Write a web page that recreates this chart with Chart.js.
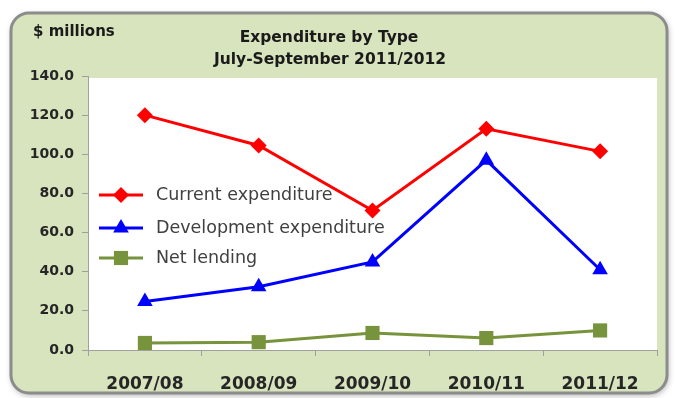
<!DOCTYPE html>
<html>
<head>
<meta charset="utf-8">
<script src="https://cdn.jsdelivr.net/npm/chart.js@4.4.1/dist/chart.umd.min.js"></script>
<style>
body { margin: 0; background: #fff; }
#wrap { width: 679px; height: 398px; }
</style>
</head>
<body>
<div id="wrap"><canvas id="c"></canvas></div>
<script>
// data
const years = ['2007/08', '2008/09', '2009/10', '2010/11', '2011/12'];
const currentExp = [120.0, 104.5, 71.3, 113.0, 101.5];
const developmentExp = [24.8, 32.3, 45.0, 97.0, 41.0];
const netLending = [3.6, 4.0, 8.7, 6.1, 10.0];
const seriesNames = ['Current expenditure', 'Development expenditure', 'Net lending'];
const titleLines = ['Expenditure by Type', 'July-September 2011/2012'];
const unitLabel = '$ millions';

const FONT = '"DejaVu Sans", sans-serif';

function roundRect(ctx, x, y, w, h, r) {
    ctx.beginPath();
    ctx.moveTo(x + r, y);
    ctx.arcTo(x + w, y, x + w, y + h, r);
    ctx.arcTo(x + w, y + h, x, y + h, r);
    ctx.arcTo(x, y + h, x, y, r);
    ctx.arcTo(x, y, x + w, y, r);
    ctx.closePath();
}

function marker(ctx, style, x, y, r, color) {
    ctx.fillStyle = color;
    ctx.beginPath();
    if (style === 'rectRot') {
        ctx.moveTo(x, y - r); ctx.lineTo(x + r, y); ctx.lineTo(x, y + r); ctx.lineTo(x - r, y);
    } else if (style === 'triangle') {
        ctx.moveTo(x, y - r); ctx.lineTo(x + r * 0.87, y + r * 0.5); ctx.lineTo(x - r * 0.87, y + r * 0.5);
    } else {
        const s = r * Math.SQRT1_2;
        ctx.rect(x - s, y - s, s * 2, s * 2);
    }
    ctx.closePath();
    ctx.fill();
}

// panel, white plot box, titles
const panelPlugin = {
    id: 'panel',
    beforeDraw(chart) {
        const { ctx, chartArea } = chart;
        ctx.save();
        ctx.shadowColor = 'rgba(0,0,0,0.35)';
        ctx.shadowBlur = 6;
        ctx.shadowOffsetX = 1;
        ctx.shadowOffsetY = 2;
        roundRect(ctx, 11, 13, 656, 380, 18);
        ctx.fillStyle = '#d7e4bd';
        ctx.fill();
        ctx.shadowColor = 'transparent';
        ctx.lineWidth = 3;
        ctx.strokeStyle = '#8c8c8c';
        ctx.stroke();
        ctx.fillStyle = '#ffffff';
        ctx.fillRect(chartArea.left, chartArea.top + 2, chartArea.right - chartArea.left, chartArea.bottom - chartArea.top - 2);
        ctx.fillStyle = '#1a1a1a';
        ctx.textBaseline = 'middle';
        ctx.textAlign = 'left';
        ctx.font = `bold 15px ${FONT}`;
        ctx.fillText(unitLabel, 33, 32);
        ctx.font = `bold 15.5px ${FONT}`;
        ctx.textAlign = 'center';
        ctx.fillText(titleLines[0], 329, 38);
        ctx.fillText(titleLines[1], 330, 60);
        ctx.restore();
    }
};

// legend drawn inside the plot
const insideLegend = {
    id: 'insideLegend',
    afterDatasetsDraw(chart) {
        const { ctx } = chart;
        const rows = [195, 228, 258];
        ctx.save();
        chart.data.datasets.forEach((ds, i) => {
            const y = rows[i];
            ctx.strokeStyle = ds.borderColor;
            ctx.lineWidth = 3;
            ctx.beginPath();
            ctx.moveTo(99, y);
            ctx.lineTo(143, y);
            ctx.stroke();
            marker(ctx, ds.pointStyle, 121, y, ds.pointRadius, ds.backgroundColor);
            ctx.fillStyle = '#404040';
            ctx.font = `17.5px ${FONT}`;
            ctx.textAlign = 'left';
            ctx.textBaseline = 'middle';
            ctx.fillText(ds.label, 156, y);
        });
        ctx.restore();
    }
};

new Chart(document.getElementById('c'), {
    type: 'line',
    data: {
        labels: years,
        datasets: [
            { label: seriesNames[0], data: currentExp, borderColor: '#ff0000', backgroundColor: '#ff0000',
              borderWidth: 3, pointStyle: 'rectRot', pointRadius: 8, pointBorderWidth: 0 },
            { label: seriesNames[1], data: developmentExp, borderColor: '#0000ff', backgroundColor: '#0000ff',
              borderWidth: 3, pointStyle: 'triangle', pointRadius: 9, pointBorderWidth: 0 },
            { label: seriesNames[2], data: netLending, borderColor: '#77933c', backgroundColor: '#77933c',
              borderWidth: 3, pointStyle: 'rect', pointRadius: 10, pointBorderWidth: 0 }
        ]
    },
    options: {
        responsive: true, maintainAspectRatio: false, animation: false,
        layout: { padding: { left: 0, right: 22, top: 76, bottom: 0 } },
        scales: {
            x: {
                offset: true,
                grid: { offset: true, drawOnChartArea: false, tickLength: 6, color: '#a0a0a0' },
                border: { color: '#a0a0a0', width: 1 },
                ticks: { font: { family: FONT, size: 17, weight: 'bold' }, color: '#262626', padding: 18, maxRotation: 0 },
                afterFit(scale) { scale.height = 48; }
            },
            y: {
                min: 0, max: 140,
                grid: { drawOnChartArea: false, tickLength: 6, color: '#a0a0a0' },
                border: { color: '#a0a0a0', width: 1 },
                ticks: { stepSize: 20, font: { family: FONT, size: 14, weight: 'bold' }, color: '#262626', padding: 8,
                         callback: (v) => Number(v).toFixed(1) },
                afterFit(scale) { scale.width = 88; }
            }
        },
        plugins: { legend: { display: false }, tooltip: { enabled: false } }
    },
    plugins: [panelPlugin, insideLegend]
});
</script>
</body>
</html>
